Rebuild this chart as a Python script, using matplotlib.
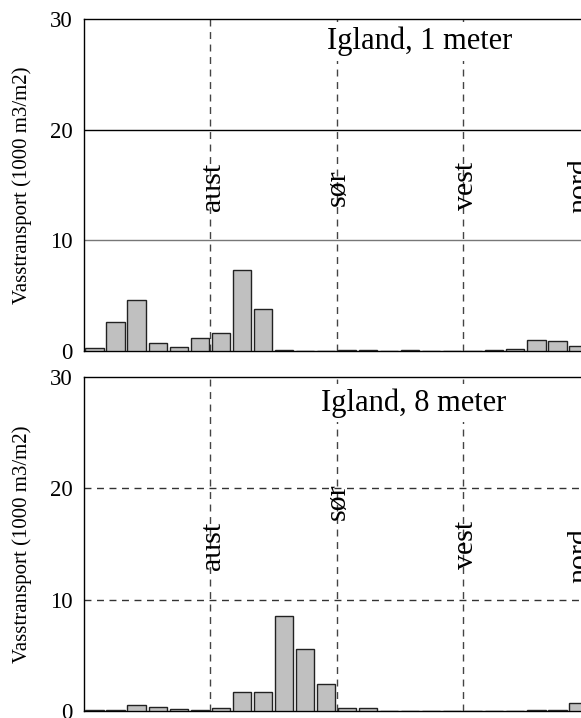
import numpy as np
import matplotlib
matplotlib.use('Agg')
import matplotlib.pyplot as plt

plt.rcParams['font.family'] = ['Liberation Serif', 'DejaVu Serif']

# 15 degree sectors, 0-360
sector_start = np.arange(0, 360, 15)

# vasstransport (1000 m3/m2) per sector
igland_1m = [0.3, 2.6, 4.65, 0.7, 0.4, 1.15, 1.6, 7.3, 3.75, 0.08,
             0.02, 0.02, 0.05, 0.05, 0.03, 0.1, 0.02, 0.02, 0.02, 0.05,
             0.15, 1.0, 0.93, 0.43]
igland_8m = [0.1, 0.1, 0.55, 0.33, 0.2, 0.1, 0.25, 1.68, 1.68, 8.5,
             5.55, 2.4, 0.3, 0.25, 0.03, 0.03, 0.03, 0.0, 0.0, 0.0,
             0.0, 0.05, 0.07, 0.7]

directions = ['aust', 'sør', 'vest', 'nord']
dir_deg = [90, 180, 270, 360]
label_x = [92, 181, 272.5, 353.5]
label_y_1m = [14.8, 14.8, 14.9, 14.9]
label_y_8m = [14.8, 18.8, 14.9, 14.0]

titles = ['Igland, 1 meter', 'Igland, 8 meter']
title_x = [239.5, 235]

fig = plt.figure(figsize=(5.81, 7.18), dpi=100)
ax1 = fig.add_axes([84/581, (718-351)/718, (589-84)/581, 332/718])
ax2 = fig.add_axes([84/581, 7/718, (589-84)/581, 334/718])

panels = [(ax1, igland_1m, label_y_1m, titles[0], title_x[0]),
          (ax2, igland_8m, label_y_8m, titles[1], title_x[1])]

for k, (ax, vals, ly, title, tx) in enumerate(panels):
    ax.bar(sector_start + 7.5, vals, width=13, color='#c0c0c0',
           edgecolor='#222222', linewidth=1, zorder=3)
    ax.set_xlim(0, 360)
    ax.set_ylim(0, 30)
    ax.set_yticks([0, 10, 20, 30])
    ax.set_xticks([])
    ax.tick_params(axis='y', length=0, labelsize=16.5, pad=8)
    ax.spines['right'].set_visible(False)
    for s in ['left', 'bottom', 'top']:
        ax.spines[s].set_linewidth(1)
    if k == 0:
        ax.axhline(20, color='black', lw=1, zorder=1)
        ax.axhline(10, color='#777777', lw=1, zorder=1)
    else:
        ax.axhline(20, color='#333333', lw=1, ls=(0, (5, 4)), zorder=1)
        ax.axhline(10, color='#333333', lw=1, ls=(0, (5, 4)), zorder=1)
    for d in dir_deg:
        ax.axvline(d, color='#444444', lw=1, ls=(0, (5, 4)), zorder=2)
    for name, x, y in zip(directions, label_x, ly):
        ax.text(x, y, name, rotation=90, ha='center', va='center',
                fontsize=21.5, zorder=4)
    ax.text(tx, 29.3 if k == 0 else 29.0, title, ha='center', va='top',
            fontsize=22, zorder=5,
            bbox=dict(facecolor='white', edgecolor='none', pad=3))
    ax.set_ylabel('Vasstransport (1000 m3/m2)', fontsize=15)
    ax.yaxis.set_label_coords(-0.103, 0.5)

fig.savefig('out.png', dpi=100)
